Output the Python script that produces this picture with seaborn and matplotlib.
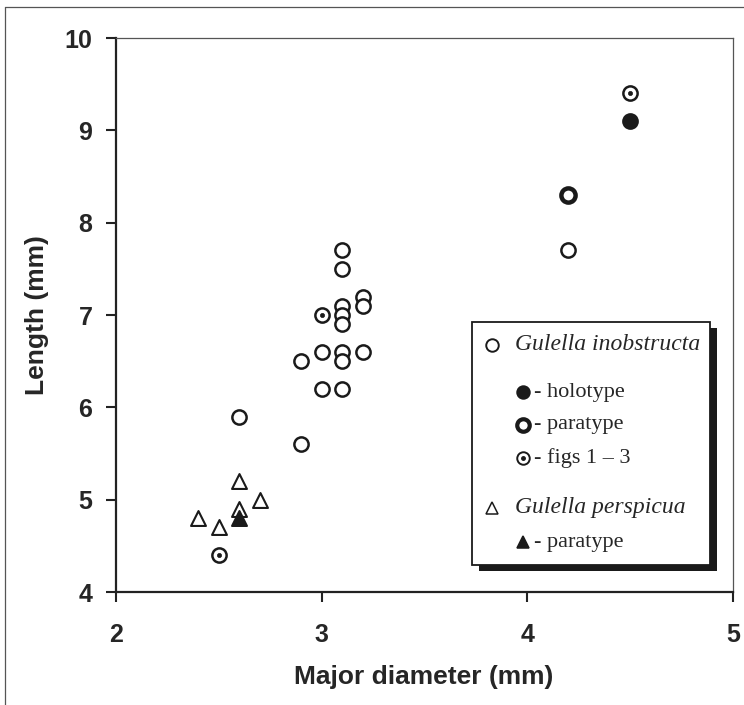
import numpy as np
import pandas as pd
import matplotlib
matplotlib.use("Agg")
import matplotlib.pyplot as plt
import seaborn as sns
from matplotlib.patches import Rectangle
from matplotlib.lines import Line2D

# Gulella inobstructa, plain specimens
ino_x = [3.1, 3.1, 3.2, 3.2, 3.1, 3.1, 3.1, 3.0, 3.1, 3.1, 3.2, 2.9, 3.0, 3.1, 2.6, 2.9, 4.2]
ino_y = [7.7, 7.5, 7.2, 7.1, 7.1, 7.0, 6.9, 6.6, 6.6, 6.5, 6.6, 6.5, 6.2, 6.2, 5.9, 5.6, 7.7]
holo_x = [4.5]
holo_y = [9.1]
para_x = [4.2]
para_y = [8.3]
figs_x = [3.0, 4.5, 2.5]
figs_y = [7.0, 9.4, 4.4]

# Gulella perspicua
per_x = [2.6, 2.7, 2.6, 2.4, 2.5]
per_y = [5.2, 5.0, 4.9, 4.8, 4.7]
per_para_x = [2.6]
per_para_y = [4.8]

x_ticks = [2, 3, 4, 5]
y_ticks = [4, 5, 6, 7, 8, 9, 10]

sns.set_style("white")

W, H = 744, 705
fig = plt.figure(figsize=(W / 100, H / 100), dpi=100)
ax = fig.add_axes([116 / W, 1 - 592 / H, (733 - 116) / W, (592 - 38) / H])

def frame(xs, ys, kind):
    return pd.DataFrame({"x": xs, "y": ys, "kind": kind})

df = pd.concat([
    frame(ino_x, ino_y, "ino"),
    frame(holo_x, holo_y, "holo"),
    frame(para_x, para_y, "para"),
    frame(figs_x, figs_y, "figs"),
    frame(per_x, per_y, "per"),
    frame(per_para_x, per_para_y, "per_para"),
], ignore_index=True)

ms = 105
sns.scatterplot(data=df[df.kind == "ino"], x="x", y="y", marker="o", s=ms,
                facecolor="white", edgecolor="#1a1a1a", linewidth=1.8, ax=ax, zorder=3)
sns.scatterplot(data=df[df.kind == "holo"], x="x", y="y", marker="o", s=ms,
                facecolor="#1a1a1a", edgecolor="#1a1a1a", linewidth=1.8, ax=ax, zorder=3)
sns.scatterplot(data=df[df.kind == "para"], x="x", y="y", marker="o", s=ms,
                facecolor="white", edgecolor="#1a1a1a", linewidth=3.2, ax=ax, zorder=3)
sns.scatterplot(data=df[df.kind == "figs"], x="x", y="y", marker="o", s=ms,
                facecolor="white", edgecolor="#1a1a1a", linewidth=1.8, ax=ax, zorder=3)
sns.scatterplot(data=df[df.kind == "figs"], x="x", y="y", marker="o", s=9,
                facecolor="#1a1a1a", edgecolor="#1a1a1a", linewidth=0.5, ax=ax, zorder=4)
sns.scatterplot(data=df[df.kind == "per"], x="x", y="y", marker="^", s=115,
                facecolor="white", edgecolor="#1a1a1a", linewidth=1.5, ax=ax, zorder=3)
sns.scatterplot(data=df[df.kind == "per_para"], x="x", y="y", marker="^", s=115,
                facecolor="#1a1a1a", edgecolor="#1a1a1a", linewidth=1.5, ax=ax, zorder=3)

ax.set_xlim(2, 5)
ax.set_ylim(4, 10)
ax.set_xticks(x_ticks)
ax.set_yticks(y_ticks)
tick_font = {"family": "Liberation Sans", "weight": "bold", "size": 18}
ax.set_xticklabels([str(t) for t in x_ticks], fontdict=tick_font)
ax.set_yticklabels([str(t) for t in y_ticks], fontdict=tick_font)
ax.tick_params(axis="x", direction="out", length=7, width=1.5, color="#222222", pad=15, bottom=True)
ax.tick_params(axis="y", direction="out", length=7, width=1.5, color="#222222", pad=10, left=True)
ax.set_xlabel("")
ax.set_ylabel("")

for side in ["left", "bottom"]:
    ax.spines[side].set_linewidth(1.6)
    ax.spines[side].set_color("#222222")
for side in ["top", "right"]:
    ax.spines[side].set_linewidth(0.9)
    ax.spines[side].set_color("#555555")

label_font = dict(family="Liberation Sans", weight="bold", size=19)
fig.text(424 / W, 1 - 677 / H, "Major diameter (mm)", ha="center", va="center", **label_font)
fig.text(37 / W, 1 - 315 / H, "Length (mm)", ha="center", va="center", rotation=90, **label_font)

# outer frame of the figure (left and top edges)
fig.add_artist(Line2D([5 / W, 5 / W], [0, 1 - 7 / H], transform=fig.transFigure, color="#555555", lw=0.9))
fig.add_artist(Line2D([5 / W, 1], [1 - 7 / H, 1 - 7 / H], transform=fig.transFigure, color="#555555", lw=0.9))

# legend box with drop shadow
def fx(px):
    return px / W

def fy(py):
    return 1 - py / H

bx0, by0, bx1, by1 = 472, 322, 710, 565
shadow = Rectangle((fx(bx0 + 7), fy(by1 + 6)), fx(bx1 - bx0), (by1 - by0) / H,
                   transform=fig.transFigure, facecolor="#1a1a1a", edgecolor="none", zorder=5)
box = Rectangle((fx(bx0), fy(by1)), fx(bx1 - bx0), (by1 - by0) / H,
                transform=fig.transFigure, facecolor="white", edgecolor="#1a1a1a", lw=1.3, zorder=6)
fig.add_artist(shadow)
fig.add_artist(box)

serif = "Liberation Serif"
rows = [
    (492, 515, 345, "o", "white", 1.4, "Gulella inobstructa", True, False),
    (523, 534, 392, "o", "#1a1a1a", 1.4, "- holotype", False, False),
    (523, 534, 425, "o", "white", 3.0, "- paratype", False, False),
    (523, 534, 458, "o", "white", 1.4, "- figs 1 \u2013 3", False, True),
    (492, 515, 508, "^", "white", 1.1, "Gulella perspicua", True, False),
    (523, 534, 542, "^", "#1a1a1a", 1.1, "- paratype", False, False),
]
for mx, tx, ry, mk, fc, lw, txt, italic, dot in rows:
    fig.add_artist(Line2D([fx(mx)], [fy(ry)], transform=fig.transFigure, marker=mk, markersize=9,
                          markerfacecolor=fc, markeredgecolor="#1a1a1a", markeredgewidth=lw,
                          linestyle="none", zorder=7))
    if dot:
        fig.add_artist(Line2D([fx(mx)], [fy(ry)], transform=fig.transFigure, marker="o", markersize=2.5,
                              markerfacecolor="#1a1a1a", markeredgecolor="#1a1a1a",
                              linestyle="none", zorder=8))
    fig.text(fx(tx), fy(ry), txt, ha="left", va="center", family=serif,
             style="italic" if italic else "normal", size=17 if italic else 16, zorder=8)

fig.savefig("out.png", dpi=100)
